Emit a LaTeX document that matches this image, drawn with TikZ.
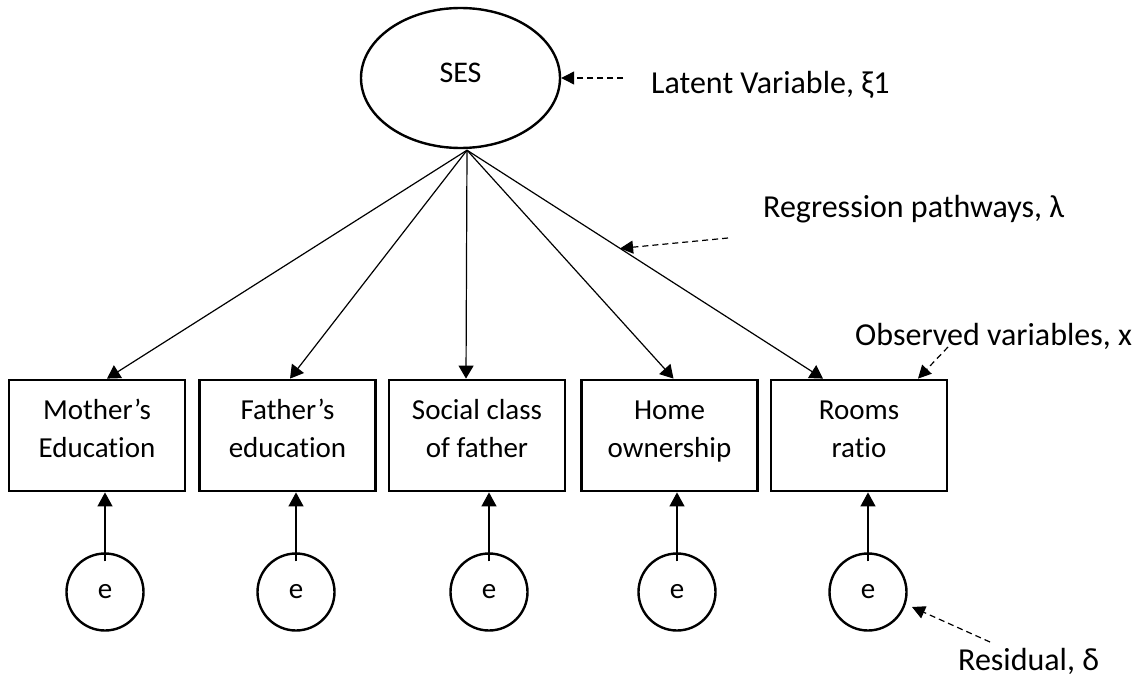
\documentclass[tikz,border=0pt]{standalone}
\usepackage{fontspec}
\setmainfont[RawFeature=-liga]{Carlito}
\usetikzlibrary{shapes.geometric,arrows.meta,calc}
% two centred lines, baseline on the lower one
\newcommand{\twoline}[2]{\begin{tabular}[b]{@{}c@{}}#1\\#2\end{tabular}}
\begin{document}
\begin{tikzpicture}[x=1pt,y=-1pt,
  font=\fontsize{29}{38}\selectfont,
  obs/.style={draw,line width=2.8pt,minimum width=176pt,minimum height=111pt,inner sep=0pt,text height=53pt,text depth=10pt},
  latent/.style={draw,ellipse,line width=2.4pt,minimum width=199pt,minimum height=140pt,inner sep=0pt},
  err/.style={draw,circle,line width=2.4pt,minimum size=77pt,inner sep=0pt},
  loading/.style={line width=1.2pt,-{Triangle[length=13pt,width=15pt]}},
  note/.style={line width=1.2pt,dash pattern=on 6pt off 4pt,-{Triangle[length=13pt,width=13pt]}},
  caption/.style={anchor=base west,inner sep=0pt,font=\fontsize{32}{38}\selectfont},
]
\useasboundingbox (0,0) rectangle (1145,677);

% latent factor
\node[latent] (ses) at (460.5,78) {\fontsize{30}{34}\selectfont\raisebox{11pt}{SES}};
\coordinate (hub) at ($(ses.south)+(6.5,1)$);

% observed indicators
\node[obs] (m1) at (97,435.5)    {\twoline{Mother’s}{Education}};
\node[obs] (m2) at (287.5,435.5) {\twoline{Father’s}{education}};
\node[obs] (m3) at (477,435.5)   {\twoline{Social class}{of father}};
\node[obs] (m4) at (669.5,435.5) {\twoline{Home}{ownership}};
\node[obs] (m5) at (859,435.5)   {\twoline{Rooms}{ratio}};

% residual terms
\node[err] (e1) at (105,592) {e};
\node[err] (e2) at (296,592) {e};
\node[err] (e3) at (489,592) {e};
\node[err] (e4) at (677,592) {e};
\node[err] (e5) at (868,592) {e};

% loadings
\draw[loading] (hub) -- ($(m1.north)+(10,0)$);
\draw[loading] (hub) -- ($(m2.north)+(2.5,0)$);
\draw[loading] (hub) -- ($(m3.north)+(-11,0)$);
\draw[loading] (hub) -- ($(m4.north)+(4,0)$);
\draw[loading] (hub) -- ($(m5.north)+(-36,0)$);

% residual paths
\foreach \i in {1,...,5}
  \draw[loading,-{Triangle[length=14pt,width=15pt]}] ([yshift=-9pt]e\i.north) -- (e\i.north |- m\i.south);

% annotations
\node[caption] (latlab) at (651,93) {Latent Variable, ξ1};
\coordinate (latfrom) at (623,78);
\draw[note] (latfrom) -- (ses.east);

\node[caption] (reglab) at (763,217) {Regression pathways, λ};
\coordinate (regfrom) at (728,238);
\draw[note] (regfrom) -- ($(hub)!0.43!($(m5.north)+(-36,0)$)$);

\node[caption] (obslab) at (855,345) {Observed variables, x};
\coordinate (obsfrom) at (948,347);
\draw[note] (obsfrom) -- ($(m5.north)+(59,0)$);

\node[caption] (reslab) at (958,670) {Residual, δ};
\coordinate (resfrom) at (990,642);
\draw[note] (resfrom) -- (912,607);
\end{tikzpicture}
\end{document}
